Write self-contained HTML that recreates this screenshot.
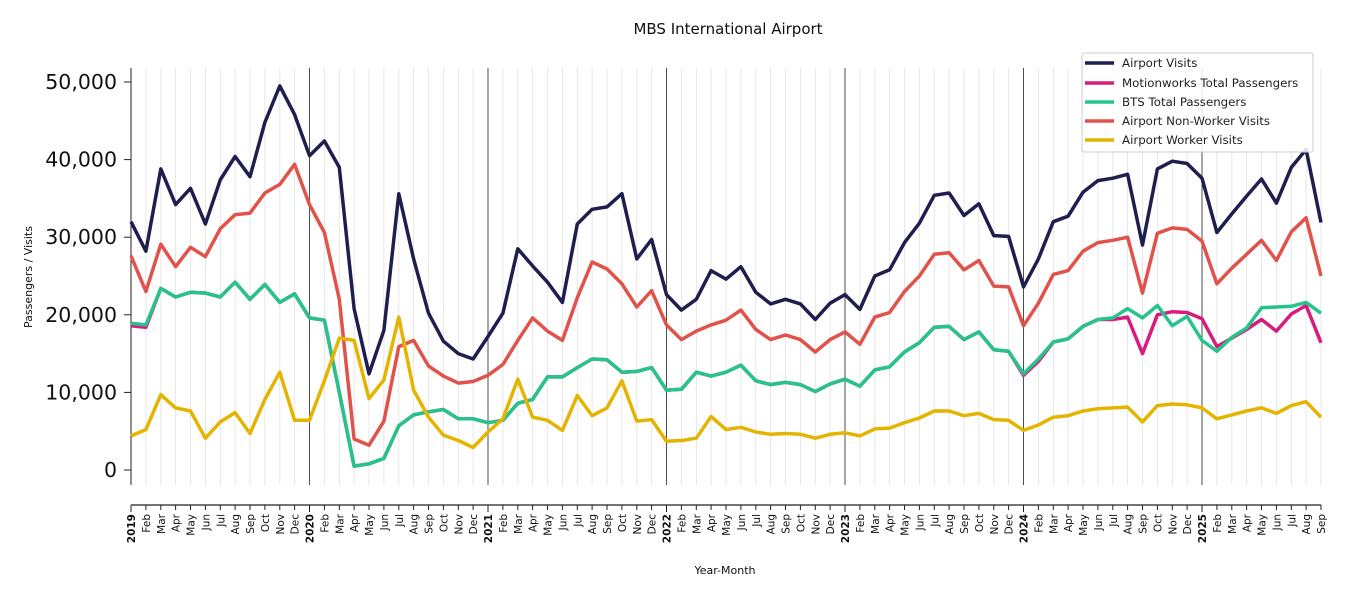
<!DOCTYPE html>
<html><head><meta charset="utf-8"><style>
body{margin:0;background:#fff}
svg{display:block;font-family:"DejaVu Sans","Liberation Sans",sans-serif}
</style></head><body>
<svg id="s" width="1350" height="600" xmlns="http://www.w3.org/2000/svg">
<text x="728" y="34" font-size="15" text-anchor="middle" fill="#111">MBS International Airport</text>
<text x="725" y="574" font-size="11" text-anchor="middle" fill="#111">Year-Month</text>
<text transform="translate(32,277) rotate(-90)" font-size="11" text-anchor="middle" fill="#111">Passengers / Visits</text>
<g id="g"></g>
<rect x="1082" y="53" width="231" height="99" fill="#fff" fill-opacity="0.85" stroke="#ccc" rx="2"/>
<g font-size="11.8" fill="#222">
<line x1="1085" y1="63" x2="1114" y2="63" stroke="#1f1f4f" stroke-width="3.5"/><text x="1122" y="67">Airport Visits</text>
<line x1="1085" y1="83" x2="1114" y2="83" stroke="#d81b7e" stroke-width="3.5"/><text x="1122" y="87">Motionworks Total Passengers</text>
<line x1="1085" y1="102" x2="1114" y2="102" stroke="#26c48d" stroke-width="3.5"/><text x="1122" y="106">BTS Total Passengers</text>
<line x1="1085" y1="121" x2="1114" y2="121" stroke="#e0524a" stroke-width="3.5"/><text x="1122" y="125">Airport Non-Worker Visits</text>
<line x1="1085" y1="140" x2="1114" y2="140" stroke="#e4b400" stroke-width="3.5"/><text x="1122" y="144">Airport Worker Visits</text>
</g>
</svg>
<script>
const X0=131,DX=14.875,Y0=470,SY=7.76;
const X=i=>X0+i*DX, Y=v=>Y0-v*SY;
const av=[32.0,28.2,38.8,34.2,36.3,31.7,37.4,40.4,37.8,44.8,49.5,45.8,40.5,42.4,39.0,20.8,12.4,18.0,35.6,27.2,20.2,16.6,15.0,14.3,17.2,20.2,28.5,26.3,24.2,21.6,31.7,33.6,33.9,35.6,27.2,29.7,22.6,20.6,22.0,25.7,24.6,26.2,22.9,21.4,22.0,21.4,19.4,21.5,22.6,20.7,25.0,25.8,29.3,31.8,35.4,35.7,32.8,34.3,30.2,30.1,23.6,27.2,32.0,32.7,35.8,37.3,37.6,38.1,29.0,38.8,39.8,39.5,37.6,30.6,33.0,35.3,37.5,34.4,39.0,41.3,31.9];
const nw=[27.6,23.0,29.1,26.2,28.7,27.5,31.1,32.9,33.1,35.7,36.8,39.4,34.2,30.6,22.0,4.0,3.2,6.3,15.9,16.7,13.4,12.1,11.2,11.4,12.2,13.6,16.7,19.6,17.9,16.7,22.2,26.8,25.9,24.0,21.0,23.1,18.7,16.8,17.9,18.7,19.3,20.6,18.1,16.8,17.4,16.8,15.2,16.8,17.8,16.2,19.7,20.3,23.0,25.0,27.8,28.0,25.8,27.0,23.7,23.6,18.6,21.5,25.2,25.7,28.2,29.3,29.6,30.0,22.8,30.5,31.2,31.0,29.5,24.0,26.0,27.8,29.6,27.0,30.7,32.5,25.0];
const bts=[18.9,18.7,23.4,22.3,22.9,22.8,22.3,24.2,22.0,23.9,21.6,22.7,19.6,19.3,10.0,0.5,0.8,1.5,5.7,7.1,7.5,7.8,6.6,6.6,6.1,6.4,8.6,9.1,12.0,12.0,13.2,14.3,14.2,12.6,12.7,13.2,10.3,10.4,12.6,12.1,12.6,13.5,11.5,11.0,11.3,11.0,10.1,11.1,11.7,10.8,12.9,13.3,15.2,16.4,18.4,18.5,16.8,17.8,15.5,15.3,12.4,14.3,16.5,16.9,18.5,19.4,19.6,20.8,19.6,21.2,18.6,19.8,16.7,15.3,17.1,18.3,20.9,21.0,21.1,21.6,20.2];
const mw=bts.slice();
mw[0]=18.6;mw[1]=18.4;mw[60]=12.2;mw[61]=14.0;mw[66]=19.4;mw[67]=19.7;
[15.0,20.0,20.4,20.3,19.5,15.9,17.0,18.1,19.4,17.9,20.1,21.2,16.4].forEach((v,i)=>mw[68+i]=v);
const wk=[4.4,5.2,9.7,8.0,7.6,4.1,6.2,7.4,4.7,9.1,12.6,6.4,6.4,11.5,17.0,16.7,9.2,11.6,19.7,10.3,6.8,4.5,3.8,2.9,4.9,6.6,11.7,6.8,6.4,5.1,9.6,7.0,8.0,11.5,6.3,6.5,3.7,3.8,4.1,6.9,5.2,5.5,4.9,4.6,4.7,4.6,4.1,4.6,4.8,4.4,5.3,5.4,6.1,6.7,7.6,7.6,7.0,7.3,6.5,6.4,5.1,5.8,6.8,7.0,7.6,7.9,8.0,8.1,6.2,8.3,8.5,8.4,8.0,6.6,7.1,7.6,8.0,7.3,8.3,8.8,6.8];
const M=["Jan","Feb","Mar","Apr","May","Jun","Jul","Aug","Sep","Oct","Nov","Dec"];
let h="";
for(let i=0;i<=80;i++){const x=X(i).toFixed(1);
 if(i%12==0&&i>0)h+=`<line x1="${x}" y1="68" x2="${x}" y2="485" stroke="#222" stroke-width="0.8"/>`;
 else if(i>0)h+=`<line x1="${x}" y1="68" x2="${x}" y2="485" stroke="#e2e2e2" stroke-width="0.8"/>`;
 h+=`<line x1="${x}" y1="505" x2="${x}" y2="${i%12==0?512:510}" stroke="#222" stroke-width="1"/>`;
 const lab=i%12==0?(2019+i/12):M[i%12];
 h+=`<text transform="translate(${(X(i)+4).toFixed(1)},514) rotate(-90)" font-size="10.5" text-anchor="end" ${i%12==0?'font-weight="bold"':''} fill="#111">${lab}</text>`;
}
h+=`<line x1="131" y1="68" x2="131" y2="485" stroke="#222" stroke-width="1"/>`;
h+=`<line x1="131" y1="505" x2="1321" y2="505" stroke="#222" stroke-width="1.2"/>`;
for(let v=0;v<=50;v+=10){const y=Y(v);
 h+=`<line x1="124" y1="${y}" x2="131" y2="${y}" stroke="#222" stroke-width="1"/>`;
 h+=`<text x="117" y="${y+7}" font-size="20.5" text-anchor="end" fill="#111">${v==0?"0":v+",000"}</text>`;}
const line=(d,c)=>`<polyline fill="none" stroke="${c}" stroke-width="3.5" stroke-linejoin="round" points="${d.map((v,i)=>X(i).toFixed(1)+","+Y(v).toFixed(1)).join(" ")}"/>`;
h+=line(av,"#1f1f4f")+line(mw,"#d81b7e")+line(bts,"#26c48d")+line(nw,"#e0524a")+line(wk,"#e4b400");
document.getElementById("g").innerHTML=h;
</script>
</body></html>
